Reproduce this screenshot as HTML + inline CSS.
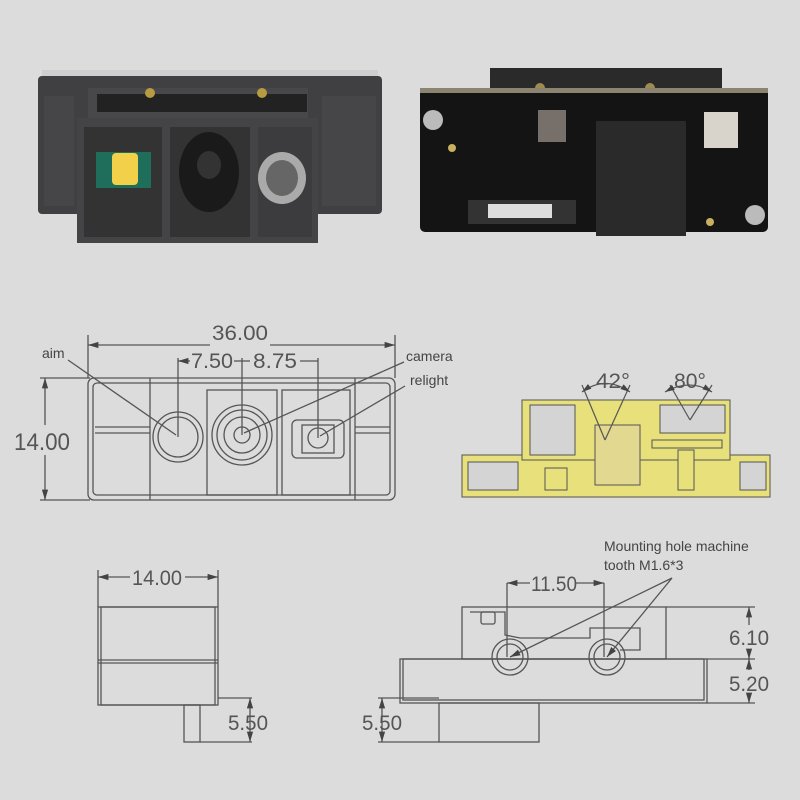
<!DOCTYPE html>
<html><head><style>
html,body{margin:0;padding:0;background:#dcdcdc;}
svg{display:block}
text{font-family:"Liberation Sans",sans-serif;fill:#444}
.d{font-family:"Liberation Sans",sans-serif;fill:#555;font-size:21px}
</style></head><body>
<svg width="800" height="800" viewBox="0 0 800 800" xmlns="http://www.w3.org/2000/svg">
<defs>
<marker id="a" viewBox="0 0 10 10" refX="10" refY="5" markerWidth="8" markerHeight="8" orient="auto-start-reverse"><path d="M0 2 L10 5 L0 8 Z" fill="#444"/></marker>
</defs>
<rect width="800" height="800" fill="#dcdcdc"/>
<!-- photo 1 -->
<rect x="42" y="70" width="336" height="8" fill="#cfcfcf"/>
<rect x="38" y="76" width="344" height="138" rx="4" fill="#404042"/>
<rect x="44" y="96" width="30" height="110" fill="#464648"/>
<rect x="322" y="96" width="54" height="110" fill="#464648"/>
<rect x="88" y="88" width="220" height="36" fill="#48484a"/>
<rect x="97" y="94" width="210" height="18" fill="#222"/>
<circle cx="150" cy="93" r="5" fill="#b89a40"/><circle cx="262" cy="93" r="5" fill="#b89a40"/>
<rect x="77" y="118" width="241" height="125" fill="#444446"/>
<rect x="84" y="127" width="78" height="110" fill="#333"/>
<rect x="170" y="127" width="80" height="110" fill="#333"/>
<rect x="258" y="127" width="54" height="110" fill="#3c3c3e"/>
<rect x="96" y="152" width="55" height="36" fill="#1f6e5c"/>
<rect x="112" y="153" width="26" height="32" rx="4" fill="#f2d04a"/>
<ellipse cx="209" cy="172" rx="30" ry="40" fill="#1a1a1a"/>
<ellipse cx="209" cy="165" rx="12" ry="14" fill="#333"/>
<ellipse cx="282" cy="178" rx="24" ry="26" fill="#aaa"/>
<ellipse cx="282" cy="178" rx="16" ry="18" fill="#666"/>
<!-- photo 2 -->
<rect x="490" y="68" width="232" height="30" fill="#2a2a2a"/>
<circle cx="540" cy="88" r="5" fill="#a08a50"/><circle cx="650" cy="88" r="5" fill="#a08a50"/>
<rect x="420" y="88" width="348" height="144" rx="5" fill="#141414"/>
<rect x="420" y="88" width="348" height="5" fill="#8a8470"/>
<rect x="596" y="121" width="90" height="115" fill="#2a2a2a"/>
<rect x="704" y="112" width="34" height="36" fill="#d8d4cc"/>
<rect x="538" y="110" width="28" height="32" fill="#77706a"/>
<rect x="468" y="200" width="108" height="24" fill="#333"/>
<rect x="488" y="204" width="64" height="14" fill="#ddd"/>
<circle cx="433" cy="120" r="10" fill="#bbb"/><circle cx="755" cy="215" r="10" fill="#bbb"/>
<circle cx="452" cy="148" r="4" fill="#c8b060"/><circle cx="710" cy="222" r="4" fill="#c8b060"/>
<!-- front view drawing -->
<g stroke="#555" fill="none" stroke-width="1.3">
<line x1="88" y1="335" x2="88" y2="378"/><line x1="395" y1="335" x2="395" y2="378"/>
<line x1="210" y1="345" x2="88" y2="345" marker-end="url(#a)"/><line x1="270" y1="345" x2="395" y2="345" marker-end="url(#a)"/>
<line x1="178" y1="358" x2="178" y2="437"/><line x1="242" y1="358" x2="242" y2="435"/><line x1="318" y1="358" x2="318" y2="438"/>
<line x1="190" y1="361" x2="178" y2="361" marker-end="url(#a)"/><line x1="234" y1="361" x2="242" y2="361"/><line x1="242" y1="361" x2="250" y2="361"/><line x1="300" y1="361" x2="318" y2="361"/>
<line x1="40" y1="378" x2="90" y2="378"/><line x1="40" y1="500" x2="90" y2="500"/>
<line x1="45" y1="425" x2="45" y2="378" marker-end="url(#a)"/><line x1="45" y1="455" x2="45" y2="500" marker-end="url(#a)"/>
<rect x="88" y="378" width="307" height="122" rx="6"/>
<rect x="93" y="383" width="297" height="112" rx="4"/>
<line x1="150" y1="378" x2="150" y2="500"/><line x1="355" y1="378" x2="355" y2="500"/>
<line x1="95" y1="427" x2="150" y2="427"/><line x1="95" y1="433" x2="150" y2="433"/>
<line x1="355" y1="427" x2="390" y2="427"/><line x1="355" y1="433" x2="390" y2="433"/>
<rect x="207" y="390" width="70" height="105"/><rect x="282" y="390" width="68" height="105"/>
<circle cx="178" cy="437" r="25"/><circle cx="178" cy="437" r="20"/>
<circle cx="242" cy="435" r="30"/><circle cx="242" cy="435" r="25"/><circle cx="242" cy="435" r="18"/><circle cx="242" cy="435" r="8"/>
<rect x="292" y="420" width="52" height="38" rx="5"/><rect x="302" y="425" width="32" height="28"/><circle cx="318" cy="438" r="10"/>
<line x1="68" y1="360" x2="176" y2="435"/>
<line x1="404" y1="362" x2="244" y2="433"/>
<line x1="405" y1="386" x2="320" y2="436"/>
</g>
<text class="d" x="212" y="340" textLength="56" lengthAdjust="spacingAndGlyphs">36.00</text>
<text class="d" x="191" y="368" textLength="42" lengthAdjust="spacingAndGlyphs">7.50</text>
<text class="d" x="253" y="368" textLength="44" lengthAdjust="spacingAndGlyphs">8.75</text>
<text class="d" x="14" y="450" style="font-size:24px" textLength="56" lengthAdjust="spacingAndGlyphs">14.00</text>
<text x="42" y="358" font-size="14">aim</text>
<text x="406" y="361" font-size="14">camera</text>
<text x="410" y="385" font-size="14">relight</text>
<!-- section view -->
<g stroke="#555" stroke-width="1">
<rect x="462" y="455" width="308" height="42" fill="#e8e07a"/>
<rect x="522" y="400" width="208" height="60" fill="#e8e07a"/>
<rect x="530" y="405" width="45" height="50" fill="#d4d4d4"/>
<rect x="660" y="405" width="65" height="28" fill="#d4d4d4"/>
<rect x="595" y="425" width="45" height="60" fill="#e2d890"/>
<rect x="652" y="440" width="70" height="8" fill="#e8e07a"/>
<rect x="678" y="450" width="16" height="40" fill="#e8e07a"/>
<rect x="468" y="462" width="50" height="28" fill="#d4d4d4"/>
<rect x="740" y="462" width="26" height="28" fill="#d4d4d4"/>
<rect x="545" y="468" width="22" height="22" fill="#e8e07a"/>
</g>
<g stroke="#555" stroke-width="1.2" fill="none">
<line x1="605" y1="440" x2="582" y2="385"/><line x1="605" y1="440" x2="630" y2="385"/>
<line x1="690" y1="420" x2="670" y2="385"/><line x1="690" y1="420" x2="712" y2="385"/>
<path d="M582 392 Q605 375 630 392" marker-start="url(#a)" marker-end="url(#a)"/>
<path d="M665 392 Q690 378 712 392" marker-start="url(#a)" marker-end="url(#a)"/>
</g>
<text class="d" x="596" y="388" textLength="34" lengthAdjust="spacingAndGlyphs">42°</text>
<text class="d" x="674" y="388" textLength="32" lengthAdjust="spacingAndGlyphs">80°</text>
<!-- side view bottom-left -->
<g stroke="#555" fill="none" stroke-width="1.3">
<line x1="98" y1="570" x2="98" y2="607"/><line x1="218" y1="570" x2="218" y2="607"/>
<line x1="130" y1="577" x2="98" y2="577" marker-end="url(#a)"/><line x1="185" y1="577" x2="218" y2="577" marker-end="url(#a)"/>
<rect x="98" y="607" width="120" height="98"/><rect x="101" y="607" width="114" height="98"/>
<line x1="98" y1="660" x2="218" y2="660"/><line x1="98" y1="663" x2="218" y2="663"/>
<rect x="184" y="705" width="16" height="37"/>
<line x1="200" y1="742" x2="252" y2="742"/><line x1="218" y1="698" x2="252" y2="698"/>
<line x1="250" y1="720" x2="250" y2="698" marker-end="url(#a)"/><line x1="250" y1="720" x2="250" y2="742" marker-end="url(#a)"/>
</g>
<text class="d" x="132" y="585" textLength="50" lengthAdjust="spacingAndGlyphs">14.00</text>
<text class="d" x="228" y="730" textLength="40" lengthAdjust="spacingAndGlyphs">5.50</text>
<!-- right bottom view -->
<g stroke="#555" fill="none" stroke-width="1.3">
<rect x="462" y="607" width="204" height="52"/>
<rect x="400" y="659" width="307" height="44"/>
<rect x="403" y="659" width="301" height="41"/>
<rect x="439" y="703" width="100" height="39"/>
<rect x="481" y="612" width="14" height="12" rx="2"/>
<path d="M470 612 H505 V635 L520 638 H590 V628 H640 V650 H620"/>
<circle cx="510" cy="657" r="18"/><circle cx="510" cy="657" r="13"/>
<circle cx="607" cy="657" r="18"/><circle cx="607" cy="657" r="13"/>
<line x1="507" y1="583" x2="507" y2="657"/><line x1="604" y1="583" x2="604" y2="657"/>
<line x1="530" y1="583" x2="507" y2="583" marker-end="url(#a)"/><line x1="575" y1="583" x2="604" y2="583" marker-end="url(#a)"/>
<line x1="666" y1="607" x2="755" y2="607"/><line x1="707" y1="659" x2="755" y2="659"/><line x1="707" y1="703" x2="755" y2="703"/>
<line x1="749" y1="625" x2="749" y2="607" marker-end="url(#a)"/><line x1="749" y1="650" x2="749" y2="659" marker-end="url(#a)"/>
<line x1="749" y1="670" x2="749" y2="659" marker-end="url(#a)"/><line x1="749" y1="695" x2="749" y2="703" marker-end="url(#a)"/>
<line x1="378" y1="698" x2="439" y2="698"/><line x1="378" y1="742" x2="439" y2="742"/>
<line x1="382" y1="720" x2="382" y2="698" marker-end="url(#a)"/><line x1="382" y1="720" x2="382" y2="742" marker-end="url(#a)"/>
<line x1="672" y1="578" x2="510" y2="657" marker-end="url(#a)"/><line x1="672" y1="578" x2="607" y2="657" marker-end="url(#a)"/>
</g>
<text class="d" x="531" y="591" textLength="46" lengthAdjust="spacingAndGlyphs">11.50</text>
<text class="d" x="729" y="645" textLength="40" lengthAdjust="spacingAndGlyphs">6.10</text>
<text class="d" x="729" y="691" textLength="40" lengthAdjust="spacingAndGlyphs">5.20</text>
<text class="d" x="362" y="730" textLength="40" lengthAdjust="spacingAndGlyphs">5.50</text>
<text x="604" y="551" font-size="14">Mounting hole machine</text>
<text x="604" y="570" font-size="14">tooth M1.6*3</text>
</svg>
</body></html>
